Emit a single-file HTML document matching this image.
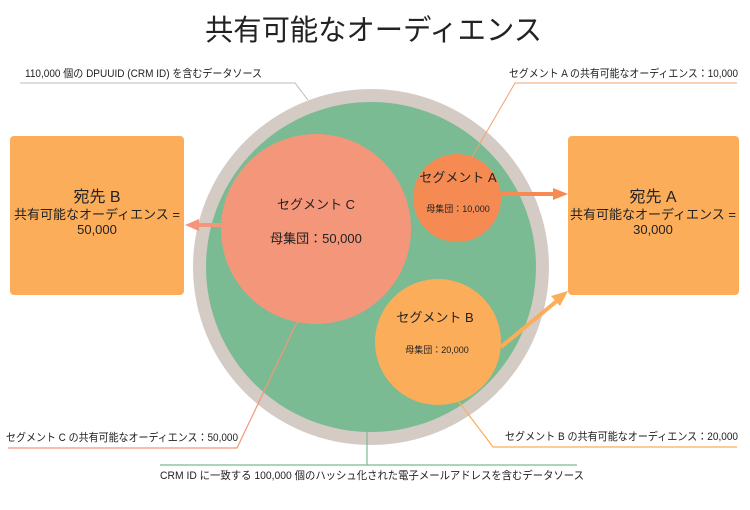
<!DOCTYPE html>
<html><head><meta charset="utf-8">
<style>
html,body{margin:0;padding:0;background:#fff;}
body{width:750px;height:505px;overflow:hidden;}
svg text{font-family:"Liberation Sans","Noto Sans CJK JP",sans-serif;fill:#222;}
</style></head><body>
<svg width="750" height="505" viewBox="0 0 750 505" xmlns="http://www.w3.org/2000/svg">
<text x="205" y="40" font-size="29" textLength="337" lengthAdjust="spacingAndGlyphs" fill="#111">共有可能なオーディエンス</text>

<circle cx="371" cy="267" r="178" fill="#d4cbc5"/>
<circle cx="371" cy="267" r="165" fill="#7bbb93"/>
<circle cx="316" cy="229" r="95" fill="#f4967a"/>
<circle cx="457" cy="198" r="44" fill="#f58b53"/>
<circle cx="438" cy="342" r="63" fill="#fbad5a"/>

<rect x="10" y="136" width="174" height="159" rx="4" fill="#fbad5a"/>
<rect x="568" y="136" width="171" height="159" rx="4" fill="#fbad5a"/>

<line x1="222" y1="225" x2="196" y2="225" stroke="#f4967a" stroke-width="4"/>
<polygon points="185,225 199,219 199,231" fill="#f4967a"/>
<line x1="500" y1="194" x2="556" y2="194" stroke="#f58b53" stroke-width="4"/>
<polygon points="568,194 553,188 553,200" fill="#f58b53"/>
<line x1="501" y1="347" x2="558" y2="300" stroke="#fbad5a" stroke-width="4"/>
<polygon points="568,291 551,296 560,306" fill="#fbad5a"/>

<polyline points="20,83 295,83 308,100" fill="none" stroke="#bbb" stroke-width="1"/>
<polyline points="737,83 515,83 472,157" fill="none" stroke="#f0a070" stroke-width="1"/>
<polyline points="8,448 237,448 298,320" fill="none" stroke="#f4967a" stroke-width="1.2"/>
<polyline points="737,447 493,447 456,398" fill="none" stroke="#fbad5a" stroke-width="1.2"/>
<polyline points="367,432 367,465" fill="none" stroke="#7bbb93" stroke-width="1.2"/>
<polyline points="160,465 577,465" fill="none" stroke="#7bbb93" stroke-width="1.2"/>

<text x="25" y="77" font-size="11" textLength="237" lengthAdjust="spacingAndGlyphs">110,000 個の DPUUID (CRM ID) を含むデータソース</text>
<text x="509" y="77" font-size="11" textLength="229" lengthAdjust="spacingAndGlyphs">セグメント A の共有可能なオーディエンス：10,000</text>
<text x="6" y="441" font-size="11" textLength="232" lengthAdjust="spacingAndGlyphs">セグメント C の共有可能なオーディエンス：50,000</text>
<text x="505" y="440" font-size="11" textLength="233" lengthAdjust="spacingAndGlyphs">セグメント B の共有可能なオーディエンス：20,000</text>
<text x="160" y="479" font-size="11" textLength="424" lengthAdjust="spacingAndGlyphs">CRM ID に一致する 100,000 個のハッシュ化された電子メールアドレスを含むデータソース</text>

<text x="316" y="209" font-size="13" text-anchor="middle">セグメント C</text>
<text x="316" y="243" font-size="13" text-anchor="middle">母集団：50,000</text>
<text x="458" y="182" font-size="13" text-anchor="middle">セグメント A</text>
<text x="458" y="212" font-size="9" text-anchor="middle">母集団：10,000</text>
<text x="435" y="322" font-size="13" text-anchor="middle">セグメント B</text>
<text x="437" y="353" font-size="9" text-anchor="middle">母集団：20,000</text>

<text x="97" y="202" font-size="16" text-anchor="middle">宛先 B</text>
<text x="97" y="219" font-size="13" text-anchor="middle">共有可能なオーディエンス =</text>
<text x="97" y="234" font-size="13" text-anchor="middle">50,000</text>
<text x="653" y="202" font-size="16" text-anchor="middle">宛先 A</text>
<text x="653" y="219" font-size="13" text-anchor="middle">共有可能なオーディエンス =</text>
<text x="653" y="234" font-size="13" text-anchor="middle">30,000</text>
</svg>
</body></html>
